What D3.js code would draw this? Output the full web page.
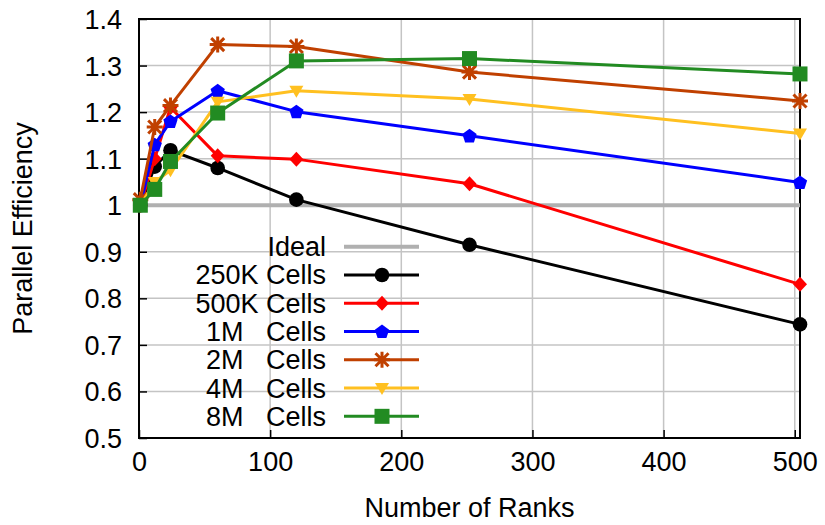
<!DOCTYPE html>
<html>
<head>
<meta charset="utf-8">
<script src="https://cdn.jsdelivr.net/npm/d3@7/dist/d3.min.js"></script>
<style>
  html, body { margin: 0; padding: 0; background: #fff; }
  svg { display: block; font-family: "Liberation Sans", Arial, Helvetica, sans-serif; }
  text { white-space: pre; }
</style>
</head>
<body>
<svg id="chart" width="825" height="525"></svg>
<script>
// ---- data ----
const ranks = [1, 12, 24, 60, 120, 252, 504];
const ideal = [1, 1, 1, 1, 1, 1, 1];
const cells250K = [1.0, 1.083, 1.118, 1.080, 1.012, 0.915, 0.744];
const cells500K = [1.0, 1.100, 1.210, 1.106, 1.099, 1.046, 0.830];
const cells1M   = [1.0, 1.130, 1.180, 1.246, 1.201, 1.149, 1.049];
const cells2M   = [1.012, 1.168, 1.214, 1.345, 1.341, 1.286, 1.224];
const cells4M   = [1.0, 1.050, 1.075, 1.222, 1.246, 1.228, 1.154];
const cells8M   = [1.0, 1.034, 1.094, 1.198, 1.310, 1.315, 1.282];
const seriesNames = ["250K Cells", "500K Cells", "1M   Cells", "2M   Cells", "4M   Cells", "8M   Cells"];
const xTicks = [0, 100, 200, 300, 400, 500];
const yTicks = [0.5, 0.6, 0.7, 0.8, 0.9, 1.0, 1.1, 1.2, 1.3, 1.4];
const xDomain = [0, 504];
const yDomain = [0.5, 1.4];

// ---- styles ----
const colors = ["#000000", "#ff0000", "#0000ff", "#c04000", "#ffc020", "#228b22"];
const markers = ["circle", "diamond", "pentagon", "star", "triDown", "square"];
const seriesValues = [cells250K, cells500K, cells1M, cells2M, cells4M, cells8M];

const W = 825, H = 525;
const margin = {left: 139, right: 25, top: 19, bottom: 87};
const svg = d3.select("#chart");
const x = d3.scaleLinear().domain(xDomain).range([margin.left, W - margin.right]);
const y = d3.scaleLinear().domain(yDomain).range([H - margin.bottom, margin.top]);
const FS = 27;

// grid
const grid = svg.append("g");
grid.selectAll("line.gx").data(xTicks.filter(d => d > 0)).join("line")
  .attr("x1", d => x(d)).attr("x2", d => x(d))
  .attr("y1", y.range()[0]).attr("y2", y.range()[1])
  .attr("stroke", "#c4c4c4").attr("stroke-width", 1.5);
grid.selectAll("line.gy").data(yTicks.filter(d => d > yDomain[0] && d < yDomain[1])).join("line")
  .attr("x1", x.range()[0]).attr("x2", x.range()[1])
  .attr("y1", d => y(d)).attr("y2", d => y(d))
  .attr("stroke", "#c4c4c4").attr("stroke-width", 1.5);

// axes (inward ticks)
const xAxis = d3.axisBottom(x).tickValues(xTicks).tickSize(-8).tickPadding(14).tickFormat(d3.format("d"));
const yAxis = d3.axisLeft(y).tickValues(yTicks).tickSize(-8).tickPadding(17).tickFormat(d3.format(".1~f"));
const gx = svg.append("g").attr("transform", `translate(0,${y.range()[0]})`).call(xAxis);
const gy = svg.append("g").attr("transform", `translate(${x.range()[0]},0)`).call(yAxis);
[gx, gy].forEach(g => {
  g.select(".domain").remove();
  g.selectAll(".tick line").attr("stroke", "#000").attr("stroke-width", 1.5);
  g.selectAll(".tick text").attr("font-size", FS).attr("fill", "#000")
    .attr("font-family", "'Liberation Sans', Arial, sans-serif");
});
gx.selectAll(".tick text").attr("dy", "0.71em");
gy.selectAll(".tick text").attr("dy", "0.35em");

// border
svg.append("rect")
  .attr("x", x.range()[0]).attr("y", y.range()[1])
  .attr("width", x.range()[1] - x.range()[0]).attr("height", y.range()[0] - y.range()[1])
  .attr("fill", "none").attr("stroke", "#000").attr("stroke-width", 2);

// axis titles
svg.append("text")
  .attr("transform", `translate(23,${(y.range()[0] + y.range()[1]) / 2}) rotate(-90)`)
  .attr("text-anchor", "middle").attr("dy", "0.35em").attr("font-size", FS)
  .text("Parallel Efficiency");
svg.append("text")
  .attr("x", (x.range()[0] + x.range()[1]) / 2).attr("y", 517)
  .attr("text-anchor", "middle").attr("font-size", FS)
  .text("Number of Ranks");

// marker drawing
function drawMarker(g, type, cx, cy, color) {
  if (type === "circle") {
    g.append("circle").attr("cx", cx).attr("cy", cy).attr("r", 7.3).attr("fill", color);
  } else if (type === "square") {
    g.append("rect").attr("x", cx - 7.5).attr("y", cy - 7.5).attr("width", 15).attr("height", 15).attr("fill", color);
  } else if (type === "diamond") {
    g.append("path").attr("d", `M${cx},${cy - 7.5}L${cx + 7},${cy}L${cx},${cy + 7.5}L${cx - 7},${cy}Z`).attr("fill", color);
  } else if (type === "pentagon") {
    const r = 7.5;
    const pts = d3.range(5).map(i => {
      const a = -Math.PI / 2 + i * 2 * Math.PI / 5;
      return [cx + r * Math.cos(a), cy + r * Math.sin(a) + 0.5];
    });
    g.append("path").attr("d", "M" + pts.map(p => p.join(",")).join("L") + "Z").attr("fill", color);
  } else if (type === "triDown") {
    g.append("path").attr("d", `M${cx - 7},${cy - 5}L${cx + 7},${cy - 5}L${cx},${cy + 7}Z`).attr("fill", color);
  } else if (type === "star") {
    const s = 8, d = 6.5;
    const p = `M${cx - s},${cy}L${cx + s},${cy}M${cx},${cy - s}L${cx},${cy + s}` +
              `M${cx - d},${cy - d}L${cx + d},${cy + d}M${cx - d},${cy + d}L${cx + d},${cy - d}`;
    g.append("path").attr("d", p).attr("stroke", color).attr("stroke-width", 3).attr("fill", "none");
  }
}

const line = d3.line().x(d => x(d[0])).y(d => y(d[1]));

// ideal line
svg.append("path").datum(ranks.map((r, i) => [r, ideal[i]]))
  .attr("d", line).attr("fill", "none").attr("stroke", "#b0b0b0").attr("stroke-width", 4);

// series
seriesValues.forEach((vals, si) => {
  const g = svg.append("g");
  const pts = ranks.map((r, i) => [r, vals[i]]);
  g.append("path").datum(pts).attr("d", line).attr("fill", "none")
    .attr("stroke", colors[si]).attr("stroke-width", 3).attr("stroke-linejoin", "round");
  pts.forEach(p => drawMarker(g, markers[si], x(p[0]), y(p[1]), colors[si]));
});

// legend
const legY0 = 246.7, legDY = 28.27, legTextX = 326, legL1 = 344, legL2 = 419, legM = 382;
const leg = svg.append("g");
const legendLabels = ["Ideal"].concat(seriesNames);
legendLabels.forEach((lab, i) => {
  const yy = legY0 + i * legDY;
  leg.append("text").attr("x", legTextX).attr("y", yy).attr("dy", "0.35em")
    .attr("text-anchor", "end").attr("font-size", FS).text(lab);
  if (i === 0) {
    leg.append("line").attr("x1", legL1).attr("x2", legL2).attr("y1", yy).attr("y2", yy)
      .attr("stroke", "#b0b0b0").attr("stroke-width", 4);
  } else {
    leg.append("line").attr("x1", legL1).attr("x2", legL2).attr("y1", yy).attr("y2", yy)
      .attr("stroke", colors[i - 1]).attr("stroke-width", 3);
    drawMarker(leg, markers[i - 1], legM, yy, colors[i - 1]);
  }
});
</script>
</body>
</html>
